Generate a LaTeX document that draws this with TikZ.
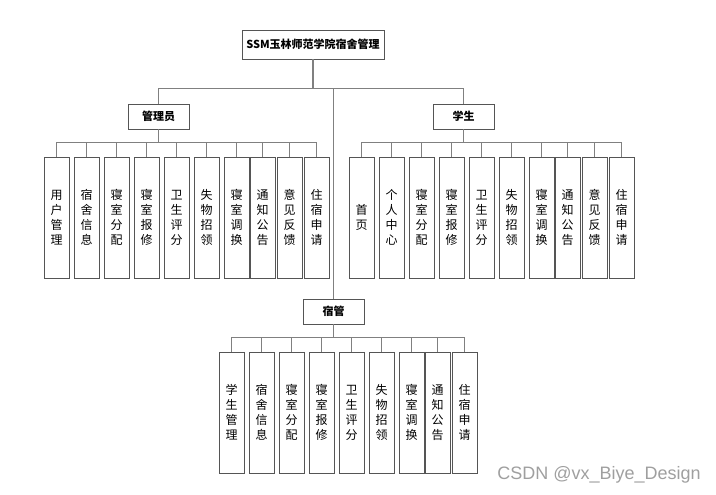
\documentclass[tikz,border=0pt]{standalone}
\usepackage{fontspec}
\usetikzlibrary{positioning,shadows}
\newfontfamily\cjk{Noto Sans CJK SC}
\setsansfont{Liberation Sans}
\definecolor{linegray}{RGB}{128,128,128}
\definecolor{boxgray}{RGB}{85,85,85}
\tikzset{box/.style={draw=boxgray, fill=white, line width=0.9pt,
           drop shadow={shadow xshift=1.2pt, shadow yshift=-1.2pt, fill=gray!60, opacity=1}},
         rolebox/.style={box, minimum width=61pt, minimum height=25pt, inner sep=0pt,
           font=\cjk\bfseries\fontsize{11}{13}\selectfont},
         leaf/.style={box, minimum width=25pt, minimum height=121pt, inner sep=0pt,
           align=center, font=\cjk\fontsize{12}{15}\selectfont},
         wire/.style={draw=linegray, line width=1.1pt}}

\begin{document}
\begin{tikzpicture}[x=1pt,y=-1pt]
	\useasboundingbox (0,0) rectangle (716,495);

	\node[box, minimum width=142pt, minimum height=29pt, inner sep=0pt,
	      font=\cjk\bfseries\fontsize{11}{13}\selectfont] (root) at (313,44.5) {SSM玉林师范学院宿舍管理};
	\node[rolebox] (admin) at (158.5,116.5) {管理员};
	\node[rolebox] (stu) at (463.5,116.5) {学生};
	\node[rolebox] (dm) at (333.5,311.5) {宿管};

	\draw[wire] (root.south) -- ++(0,29) -| (admin.north);
	\draw[wire] (root.south) -- ++(0,29) -| (stu.north);
	\draw[wire] (root.south) -- ++(0,29) -| (dm.north);

	\foreach \x/\t [count=\i] in {56.5/用\\户\\管\\理, 86.5/宿\\舍\\信\\息, 116.5/寝\\室\\分\\配,
	    146.5/寝\\室\\报\\修, 176.5/卫\\生\\评\\分, 206.5/失\\物\\招\\领, 236.5/寝\\室\\调\\换,
	    262.5/通\\知\\公\\告, 289.5/意\\见\\反\\馈, 316.5/住\\宿\\申\\请}
	{
		\node[leaf] (a\i) at (\x,217.5) {\t};
		\draw[wire] (admin.south) -- ++(0,13) -| (a\i.north);
	}

	\foreach \x/\t [count=\i] in {361.5/首\\页, 391.5/个\\人\\中\\心, 421.5/寝\\室\\分\\配,
	    451.5/寝\\室\\报\\修, 481.5/卫\\生\\评\\分, 511.5/失\\物\\招\\领, 541.5/寝\\室\\调\\换,
	    567.5/通\\知\\公\\告, 594.5/意\\见\\反\\馈, 621.5/住\\宿\\申\\请}
	{
		\node[leaf] (s\i) at (\x,217.5) {\t};
		\draw[wire] (stu.south) -- ++(0,13) -| (s\i.north);
	}

	\foreach \x/\t [count=\i] in {231.5/学\\生\\管\\理, 261.5/宿\\舍\\信\\息, 291.5/寝\\室\\分\\配,
	    321.5/寝\\室\\报\\修, 351.5/卫\\生\\评\\分, 381.5/失\\物\\招\\领, 411.5/寝\\室\\调\\换,
	    437.5/通\\知\\公\\告, 464.5/住\\宿\\申\\请}
	{
		\node[leaf] (d\i) at (\x,412.5) {\t};
		\draw[wire] (dm.south) -- ++(0,13) -| (d\i.north);
	}

	\node[font=\sffamily\fontsize{18}{20}\selectfont, text=gray!75] (mark) at (599,475) {CSDN @vx\_Biye\_Design};
\end{tikzpicture}
\end{document}
